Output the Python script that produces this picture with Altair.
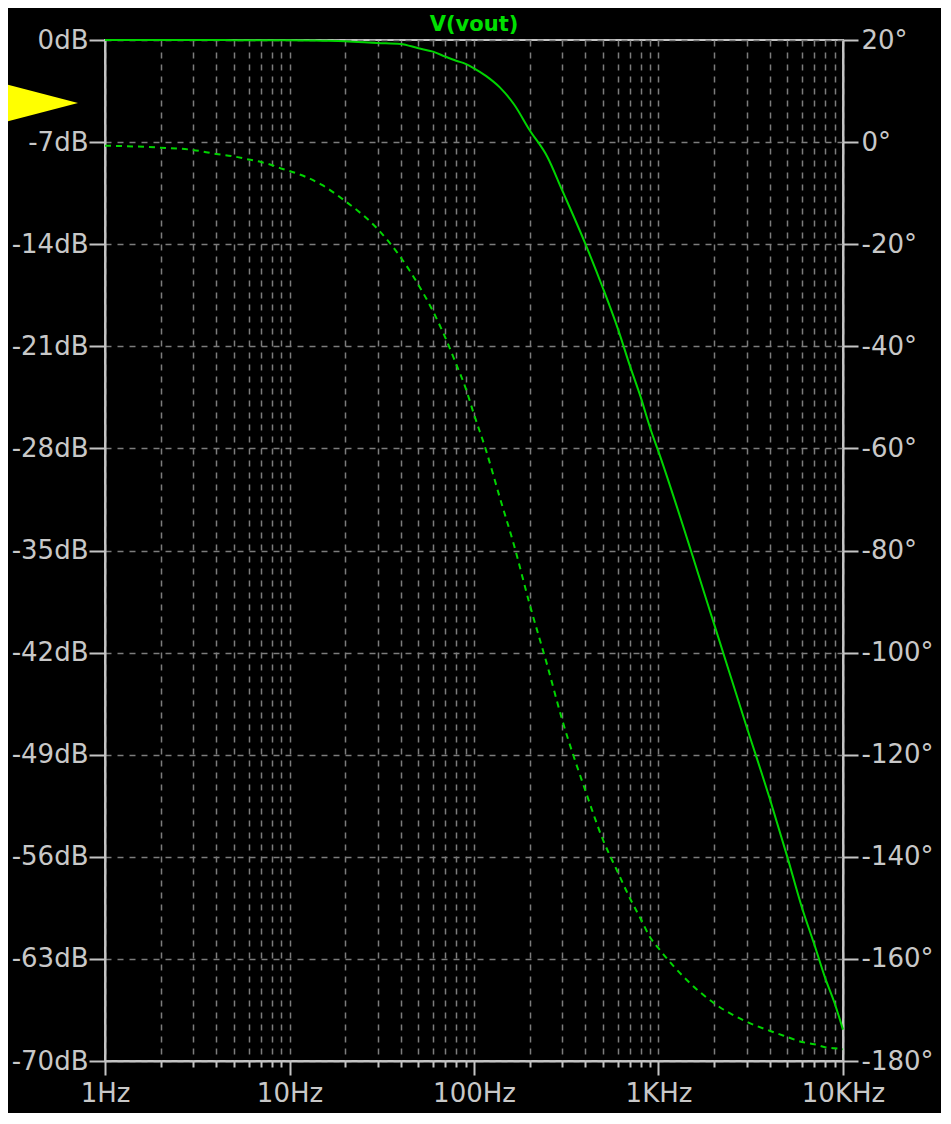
import altair as alt
import pandas as pd

# Frequencies (Hz) at which the traces were read
freq_hz = [1, 2, 3, 4, 5, 6, 7, 8, 9, 10, 15, 20, 30, 40, 50, 60, 70, 80, 90, 100,
           116, 138, 165, 200, 250, 300, 400, 500, 600, 700, 800, 900, 1000,
           2000, 3000, 4000, 5000, 6000, 7000, 8000, 9000, 10000]

# Magnitude of V(vout) in dB (solid trace, left axis)
mag_db = [0.0, 0.0, 0.0, 0.0, -0.01, -0.01, -0.01, -0.02, -0.02, -0.02, -0.05, -0.08, -0.2,
          -0.27, -0.57, -0.8, -1.14, -1.42, -1.64, -1.94,
          -2.46, -3.25, -4.42, -6.17, -8.02, -10.28, -13.93, -17.02, -19.74, -22.34, -24.47,
          -26.58, -28.22, -40.03, -47.07, -51.97, -56.04, -59.51, -62.03, -64.3, -66.02, -67.85]

# Phase of V(vout) in degrees (dashed trace, right axis)
phase_deg = [-0.70, -1.09, -1.54, -2.32, -2.81, -3.40, -3.89, -4.48, -5.16, -5.65, -8.40, -11.53,
             -17.01, -22.55, -27.98, -33.17, -38.36, -43.45, -48.15, -53.34,
             -60.29, -69.63, -79.03, -90.45, -102.59, -113.06, -126.87, -136.66, -142.93,
             -148.12, -152.13, -155.75, -157.91, -168.68, -172.30, -174.07, -175.30,
             -176.28, -176.71, -177.30, -177.49, -177.69]

# Axis tick values
db_ticks = [0, -7, -14, -21, -28, -35, -42, -49, -56, -63, -70]
deg_ticks = [20, 0, -20, -40, -60, -80, -100, -120, -140, -160, -180]
x_ticks = [m * 10 ** k for k in range(4) for m in range(1, 10)] + [10000]

df = pd.DataFrame({"freq": freq_hz, "mag": mag_db, "phase": phase_deg})

GREEN = "#00d400"
AXIS_GRAY = "#c4c4c4"
GRID_GRAY = "#7c7c7c"
FONT = "DejaVu Sans"
DECADE_TEST = "indexof([1,10,100,1000,10000], datum.value) >= 0"

x_enc = alt.X(
    "freq:Q",
    scale=alt.Scale(type="log", domain=[1, 10000], nice=False),
    axis=alt.Axis(
        values=x_ticks,
        title=None,
        labelExpr=DECADE_TEST + " ? (datum.value >= 1000 ? (datum.value/1000) + 'KHz' : datum.value + 'Hz') : ''",
        labelOverlap=False,
        labelFlush=False,
        tickSize={"condition": {"test": DECADE_TEST, "value": 14}, "value": 6},
        labelPadding=5,
        grid=True,
    ),
)

mag = alt.Chart(df).mark_line(color=GREEN, strokeWidth=2, interpolate="monotone").encode(
    x=x_enc,
    y=alt.Y(
        "mag:Q",
        scale=alt.Scale(domain=[-70, 0], nice=False, zero=False),
        axis=alt.Axis(
            values=db_ticks,
            title=None,
            orient="left",
            labelExpr="datum.value + 'dB'",
            tickSize=16,
            labelPadding=1,
            grid=True,
        ),
    ),
)

phase = alt.Chart(df).mark_line(color=GREEN, strokeWidth=2, strokeDash=[6, 5], interpolate="monotone").encode(
    x=x_enc,
    y=alt.Y(
        "phase:Q",
        scale=alt.Scale(domain=[-180, 20], nice=False, zero=False),
        axis=alt.Axis(
            values=deg_ticks,
            title=None,
            orient="right",
            labelExpr="datum.value + '°'",
            tickSize=15,
            labelPadding=3,
            grid=False,
        ),
    ),
)

# Yellow cursor marker at the left edge
marker = alt.Chart(alt.Data(values=[{"m": 1}])).mark_point(
    shape="M-1,-0.52L1,0L-1,0.52Z", size=7396, filled=True, color="#ffff00", opacity=1, strokeWidth=0
).encode(x=alt.value(-70), y=alt.value(63))

chart = (
    alt.layer(mag, phase, marker)
    .resolve_scale(y="independent")
    .properties(
        width=738,
        height=1021,
        title=alt.TitleParams("V(vout)", color="#00e000", font=FONT, fontSize=21, fontWeight="bold",
                              anchor="middle", offset=9, dy=17, frame="group"),
        autosize=alt.AutoSizeParams(type="none"),
        padding={"left": 97, "top": 32, "right": 98, "bottom": 52},
        background="#000000",
    )
    .configure_view(stroke=AXIS_GRAY, strokeWidth=2)
    .configure_axis(
        labelFont=FONT,
        labelFontSize=26,
        labelColor="#c8c8c8",
        domainColor=AXIS_GRAY,
        domainWidth=2,
        tickColor=AXIS_GRAY,
        tickWidth=2,
        gridColor=GRID_GRAY,
        gridDash=[6, 6],
        gridWidth=1.5,
        gridOpacity=1,
    )
)

chart.save("out.html", embed_options={"renderer": "svg", "actions": False})
